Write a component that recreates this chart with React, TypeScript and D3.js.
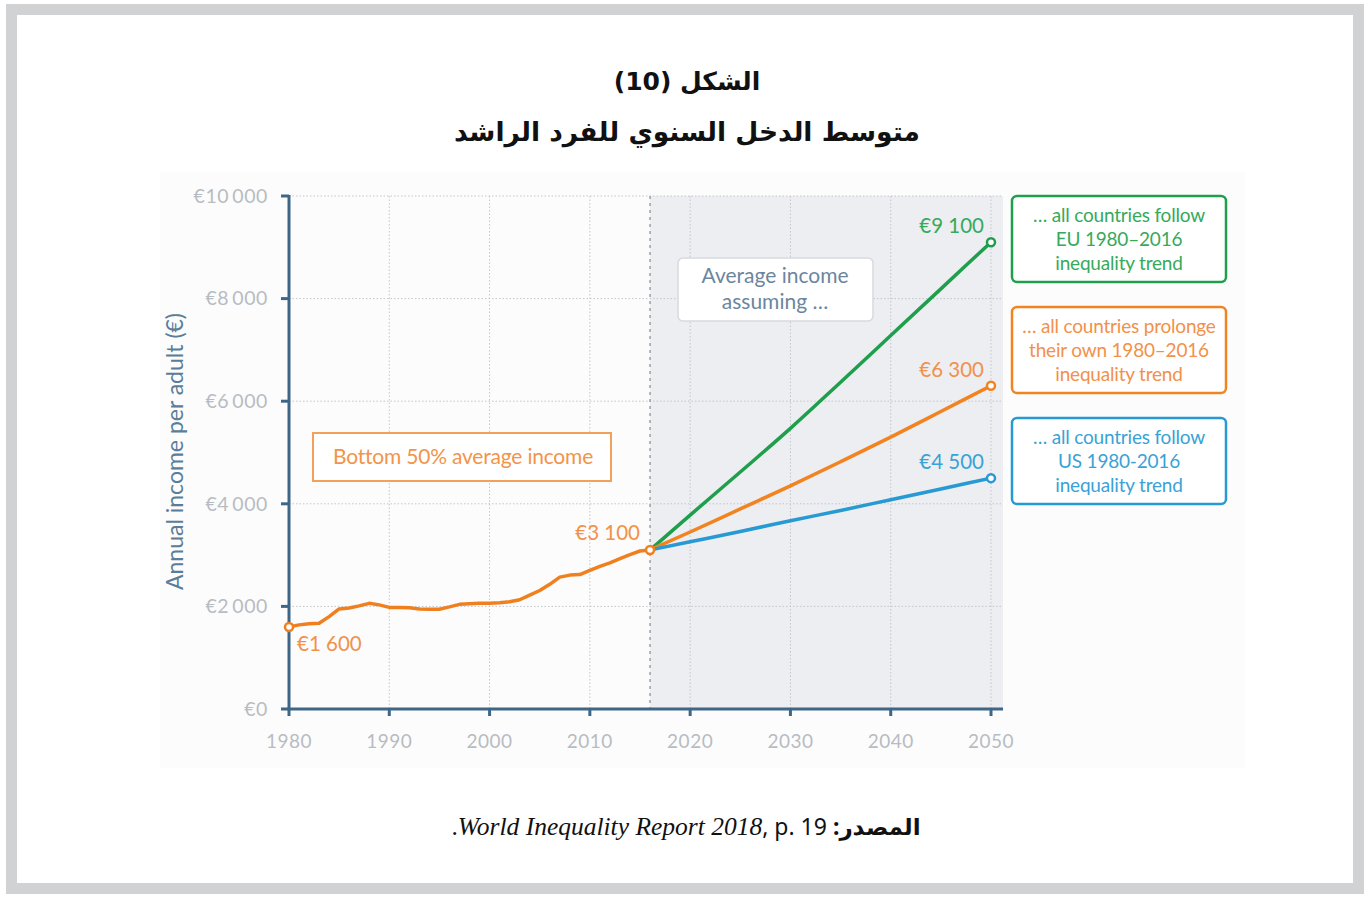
import React from "react";
import * as d3 from "d3";

const histYears = [1980,1981,1982,1983,1984,1985,1986,1987,1988,1989,1990,1991,1992,1993,1994,1995,1996,1997,1998,1999,2000,2001,2002,2003,2004,2005,2006,2007,2008,2009,2010,2011,2012,2013,2014,2015,2016];
const histValues = [1600,1640,1660,1670,1800,1950,1970,2010,2060,2030,1980,1980,1975,1950,1945,1945,1990,2040,2050,2060,2060,2070,2090,2130,2220,2310,2430,2570,2610,2620,2700,2780,2850,2930,3010,3080,3100];

const projYears = [2016, 2020, 2025, 2030, 2035, 2040, 2045, 2050];
const euValues = [3100, 3780, 4620, 5470, 6370, 7280, 8190, 9100];
const ownValues = [3100, 3450, 3900, 4350, 4820, 5300, 5800, 6300];
const usValues = [3100, 3260, 3460, 3670, 3870, 4080, 4290, 4500];

const yTicks = [0, 2000, 4000, 6000, 8000, 10000];
const yTickLabels = ["€0", "€2\u2009000", "€4\u2009000", "€6\u2009000", "€8\u2009000", "€10\u2009000"];
const xTicks = [1980, 1990, 2000, 2010, 2020, 2030, 2040, 2050];

const scenarioLines = [
  { key: "eu", values: euValues, color: "#1f9e4b", text: "#36aa5a", label: "€9 100", box: ["… all countries follow", "EU 1980–2016", "inequality trend"] },
  { key: "own", values: ownValues, color: "#f28321", text: "#f2914a", label: "€6 300", box: ["… all countries prolonge", "their own 1980–2016", "inequality trend"] },
  { key: "us", values: usValues, color: "#2799d3", text: "#3aa2d6", label: "€4 500", box: ["… all countries follow", "US 1980-2016", "inequality trend"] },
];

const titleLine1 = "الشكل (10)";
const titleLine2 = "متوسط الدخل السنوي للفرد الراشد";

export default function App() {
  const W = 1370, H = 897;
  const x = d3.scaleLinear().domain([1980, 2050]).range([289, 991]);
  const y = d3.scaleLinear().domain([0, 10000]).range([709, 196]);
  const axisColor = "#3e6787";
  const tickText = "#b7bcc3";
  const font = "Lato, 'Open Sans', sans-serif";
  const arabicFont = "'DejaVu Sans', 'Noto Sans', sans-serif";

  const histLine = d3.line<number>().x((_, i) => x(histYears[i])).y((d) => y(d)).curve(d3.curveLinear)(histValues) || "";
  const projLine = (vals: number[]) =>
    d3.line<number>().x((_, i) => x(projYears[i])).y((d) => y(d)).curve(d3.curveMonotoneX)(vals) || "";

  const xStart = x(2016);
  const xRight = x(2051.2);
  const lastIdx = projYears.length - 1;
  const boxX = 1012, boxW = 214, boxH = 86;
  const boxYs = [196, 307, 418];

  return (
    <div style={{ position: "absolute", left: 0, top: 0 }}>
      <svg width={W} height={H} viewBox={`0 0 ${W} ${H}`} style={{ display: "block", background: "#fff" }}>
        <rect x={11.5} y={9.5} width={1347} height={879} fill="#fff" stroke="#d1d2d4" strokeWidth={11} />
        <rect x={160} y={172} width={1085} height={596} fill="#fcfcfc" />

        {/* Title */}
        <text x={687} y={90} textAnchor="middle" direction="rtl" fontFamily={arabicFont} fontWeight="bold" fontSize={25} fill="#111">{titleLine1}</text>
        <text x={687} y={141} textAnchor="middle" direction="rtl" fontFamily={arabicFont} fontWeight="bold" fontSize={26.5} fill="#111">{titleLine2}</text>

        {/* Shaded projection area */}
        <rect x={xStart} y={y(10000)} width={xRight - xStart} height={y(0) - y(10000)} fill="#eceef1" />

        {/* Gridlines */}
        {yTicks.filter((t) => t > 0).map((t) => (
          <line key={"gy" + t} x1={x(1980)} x2={xRight} y1={y(t)} y2={y(t)} stroke="#c2c6cc" strokeWidth={1} strokeDasharray="1.5 2" />
        ))}
        {xTicks.filter((t) => t > 1980).map((t) => (
          <line key={"gx" + t} x1={x(t)} x2={x(t)} y1={y(10000)} y2={y(0)} stroke="#c2c6cc" strokeWidth={1} strokeDasharray="1.5 2" />
        ))}
        <line x1={xStart} x2={xStart} y1={y(10000)} y2={y(0)} stroke="#8f959c" strokeWidth={1.3} strokeDasharray="3 4" />

        {/* Axes */}
        <line x1={x(1980)} x2={x(1980)} y1={y(10000) - 1} y2={y(0) + 1.5} stroke={axisColor} strokeWidth={3} />
        <line x1={x(1980) - 1.5} x2={xRight} y1={y(0)} y2={y(0)} stroke={axisColor} strokeWidth={3} />
        {yTicks.map((t) => (
          <line key={"ty" + t} x1={x(1980) - 8} x2={x(1980)} y1={y(t)} y2={y(t)} stroke={axisColor} strokeWidth={3} />
        ))}
        {xTicks.map((t) => (
          <line key={"tx" + t} x1={x(t)} x2={x(t)} y1={y(0)} y2={y(0) + 7} stroke={axisColor} strokeWidth={3} />
        ))}
        {yTicks.map((t, i) => (
          <text key={"ly" + t} x={268} y={y(t)} dy="0.35em" textAnchor="end" fontFamily={font} fontSize={19.5} fill={tickText} letterSpacing={0.6}>{yTickLabels[i]}</text>
        ))}
        {xTicks.map((t) => (
          <text key={"lx" + t} x={x(t)} y={741} dy="0.35em" textAnchor="middle" fontFamily={font} fontSize={19} fill={tickText} letterSpacing={0.5}>{t}</text>
        ))}
        <text transform={`translate(183, ${y(5000) - 1}) rotate(-90)`} textAnchor="middle" fontFamily={font} fontSize={23} fill="#5a7e99">Annual income per adult (€)</text>

        {/* Average income box */}
        <rect x={678} y={258} width={195} height={63} rx={5} fill="#fff" stroke="#d6dade" strokeWidth={1.5} />
        <text x={775} y={276} dy="0.35em" textAnchor="middle" fontFamily={font} fontSize={21} fill="#6b869e">Average income</text>
        <text x={775} y={302} dy="0.35em" textAnchor="middle" fontFamily={font} fontSize={21} fill="#6b869e">assuming …</text>

        {/* Bottom 50% box */}
        <rect x={313} y={433} width={298} height={48} fill="#fff" stroke="#f2a15c" strokeWidth={2} />
        <text x={463} y={457} dy="0.35em" textAnchor="middle" fontFamily={font} fontSize={21} fill="#f2944a" letterSpacing={-0.2}>Bottom 50%  average income</text>

        {/* Projection lines */}
        {scenarioLines.map((s) => (
          <path key={s.key} d={projLine(s.values)} fill="none" stroke={s.color} strokeWidth={3.5} strokeLinejoin="round" />
        ))}

        {/* Historical line */}
        <path d={histLine} fill="none" stroke="#f0801f" strokeWidth={3.5} strokeLinejoin="round" />

        {/* End markers */}
        {scenarioLines.map((s) => (
          <circle key={"c" + s.key} cx={x(projYears[lastIdx])} cy={y(s.values[lastIdx])} r={4} fill="#fff" stroke={s.color} strokeWidth={2.5} />
        ))}
        <circle cx={x(histYears[0])} cy={y(histValues[0])} r={4} fill="#fff" stroke="#f0801f" strokeWidth={2.5} />
        <circle cx={x(2016)} cy={y(histValues[histValues.length - 1])} r={4} fill="#fff" stroke="#f0801f" strokeWidth={2.5} />

        {/* Value labels */}
        {scenarioLines.map((s) => (
          <text key={"v" + s.key} x={984} y={y(s.values[lastIdx]) - 16} dy="0.35em" textAnchor="end" fontFamily={font} fontSize={20.5} fill={s.text}>{s.label}</text>
        ))}
        <text x={640} y={y(3100) - 17} dy="0.35em" textAnchor="end" fontFamily={font} fontSize={20.5} fill="#f2914a">€3 100</text>
        <text x={297} y={y(1600) + 17} dy="0.35em" textAnchor="start" fontFamily={font} fontSize={20.5} fill="#f2914a">€1 600</text>

        {/* Legend boxes */}
        {scenarioLines.map((s, i) => (
          <g key={"b" + s.key}>
            <rect x={boxX} y={boxYs[i]} width={boxW} height={boxH} rx={5} fill="#fff" stroke={s.color} strokeWidth={2.5} />
            {s.box.map((line, j) => (
              <text key={j} x={boxX + boxW / 2} y={boxYs[i] + 19 + j * 24} dy="0.35em" textAnchor="middle" fontFamily={font} fontSize={19} fill={s.text} letterSpacing={-0.2}>{line}</text>
            ))}
          </g>
        ))}

        {/* Source */}
        <text x={686} y={835} textAnchor="middle" direction="rtl" fontFamily="'Noto Sans', 'DejaVu Sans', sans-serif" fontSize={23} fill="#111">
          <tspan fontWeight="bold">المصدر: </tspan>
          <tspan fontFamily="'Liberation Serif', 'DejaVu Serif', serif" fontStyle="italic" fontSize={25.5}>World Inequality Report 2018</tspan>
          <tspan>, p. 19</tspan>
          <tspan fontFamily="'Liberation Serif', serif" fontSize={25.5}>.</tspan>
        </text>
      </svg>
    </div>
  );
}
